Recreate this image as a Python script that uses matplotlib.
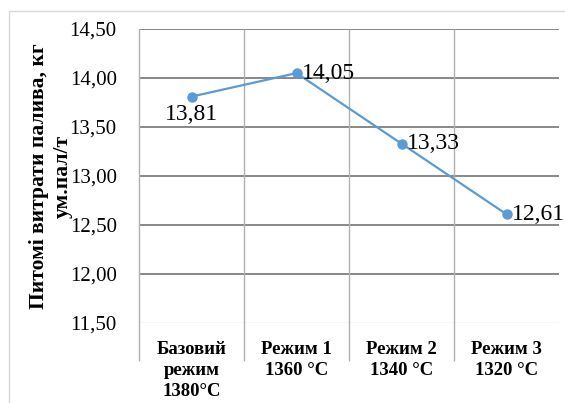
import matplotlib
import numpy as np

matplotlib.use("Agg")

from matplotlib import pyplot as plt  # noqa: E402
from matplotlib.patches import Rectangle  # noqa: E402

categories = ["Базовий\nрежим\n1380°C", "Режим 1\n1360 °C", "Режим 2\n1340 °C", "Режим 3\n1320 °C"]
consumption = [13.81, 14.05, 13.33, 12.61]
value_labels = ["13,81", "14,05", "13,33", "12,61"]
y_ticks = [11.5, 12.0, 12.5, 13.0, 13.5, 14.0, 14.5]
y_label = "Питомі витрати палива, кг\nум.пал/т"

LINE_COLOR = "#5b9bd5"
GRID_COLOR = "#888888"
plt.rcParams["font.family"] = ["Liberation Serif", "DejaVu Serif"]

fig = plt.figure(figsize=(5.65, 4.03), dpi=100)
ax = fig.add_axes([139 / 565, 80 / 403, 420 / 565, 294 / 403])

# chart frame
fig.patches.append(Rectangle((9 / 565, -0.1), 1.0, (403 - 11) / 403 + 0.1,
                             transform=fig.transFigure, fill=False,
                             edgecolor="#d9d9d9", linewidth=1.0))

x = np.arange(len(categories))
ax.set_xlim(-0.5, len(categories) - 0.5)
ax.set_ylim(y_ticks[0], y_ticks[-1])

for y in y_ticks[1:]:
    ax.axhline(y, color=GRID_COLOR, linewidth=1.4, zorder=1)
ax.axhline(y_ticks[0], color="#d9d9d9", linewidth=1.0, zorder=1)

# category separators run down into the label area
sep = np.arange(len(categories)) - 0.5
ax.vlines(sep, -0.128, 1.0, transform=ax.get_xaxis_transform(),
          color="#b0b0b0", linewidth=1.0, clip_on=False, zorder=1)

ax.plot(x, consumption, color=LINE_COLOR, linewidth=1.6, marker="o",
        markersize=6.5, zorder=3)

for i, (v, txt) in enumerate(zip(consumption, value_labels)):
    if i == 0:
        ax.annotate(txt, (i, v), xytext=(0, -5), textcoords="offset points",
                    ha="center", va="top", fontsize=17)
    else:
        ax.annotate(txt, (i, v), xytext=(4, 0), textcoords="offset points",
                    ha="left", va="center", fontsize=17)

ax.set_yticks(y_ticks)
ax.set_yticklabels([f"{t:.2f}".replace(".", ",") for t in y_ticks], fontsize=15)
ax.tick_params(axis="y", length=0, pad=16)

ax.set_xticks(x)
ax.set_xticklabels(categories, fontsize=13.5, fontweight="bold", linespacing=1.3)
ax.tick_params(axis="x", length=0, pad=13)

for s in ax.spines.values():
    s.set_visible(False)

fig.text(51 / 565, 1 - 176 / 403, y_label, rotation=90, ha="center", va="center",
         fontsize=15.5, fontweight="bold", linespacing=1.25, multialignment="center")

fig.savefig("out.png", dpi=100)
